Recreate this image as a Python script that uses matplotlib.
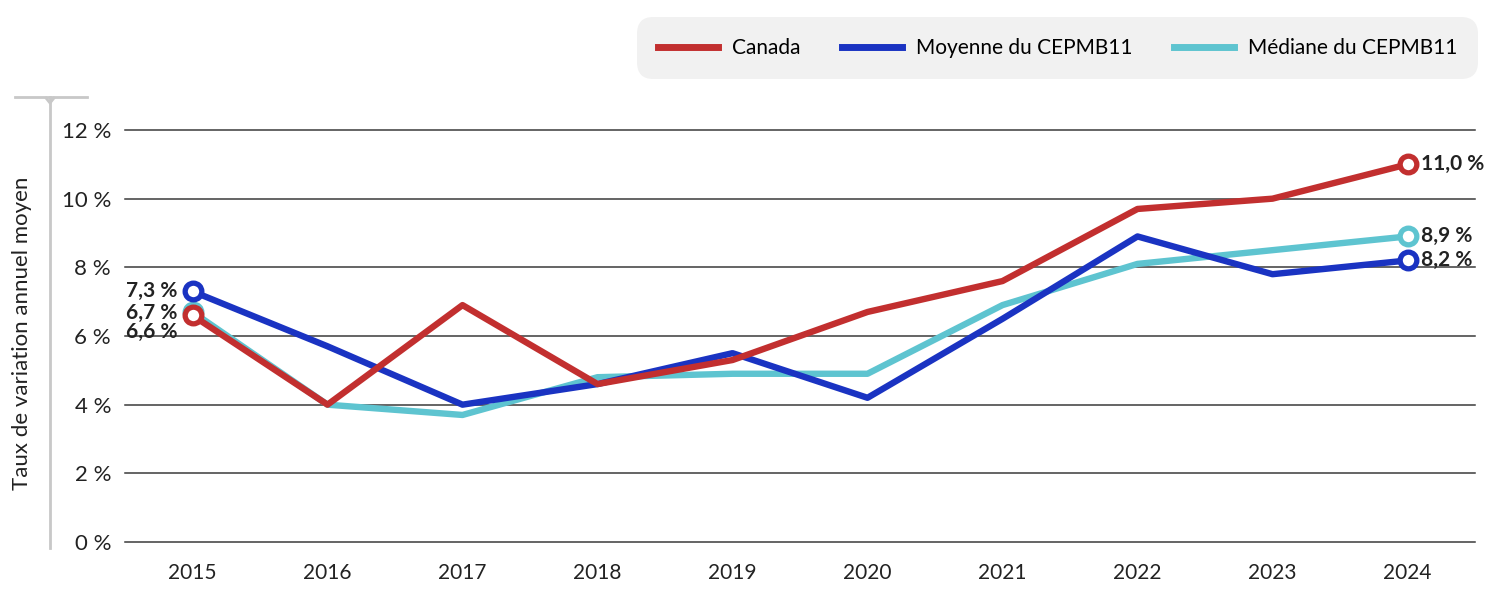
import numpy as np
import matplotlib
matplotlib.use("Agg")
import matplotlib.pyplot as plt
from matplotlib.lines import Line2D

plt.rcParams['font.family'] = ['Lato', 'DejaVu Sans']

# data
years   = [2015, 2016, 2017, 2018, 2019, 2020, 2021, 2022, 2023, 2024]
canada  = [6.6, 4.0, 6.9, 4.6, 5.3, 6.7, 7.6, 9.7, 10.0, 11.0]
moyenne = [7.3, 5.7, 4.0, 4.6, 5.5, 4.2, 6.5, 8.9, 7.8, 8.2]
mediane = [6.7, 4.0, 3.7, 4.8, 4.9, 4.9, 6.9, 8.1, 8.5, 8.9]
y_ticks = [0, 2, 4, 6, 8, 10, 12]
y_label = "Taux de variation annuel moyen"

RED, BLUE, CYAN = '#c22f2f', '#1a33c2', '#5ec4d0'

series = [
    ("Canada", canada, RED),
    ("Moyenne du CEPMB11", moyenne, BLUE),
    ("Médiane du CEPMB11", mediane, CYAN),
]


def fmt(v):
    return f"{v:.1f}".replace('.', ',') + " %"


fig = plt.figure(figsize=(15, 6.03), dpi=100)
ax = fig.add_axes([125 / 1500, 1 - 542 / 603, 1350 / 1500, 412 / 603])
x = np.arange(len(years))
ax.set_xlim(-0.5, len(years) - 0.5)
ax.set_ylim(0, 12)

for t in y_ticks:
    ax.axhline(t, color='#3a3a3a', lw=1.1, zorder=1, clip_on=False)

# draw order: median under average under Canada
for name, vals, col in [series[2], series[1], series[0]]:
    ax.plot(x, vals, color=col, lw=4.6, solid_capstyle='butt', zorder=3)
    ax.plot([x[0], x[-1]], [vals[0], vals[-1]], 'o', ms=12, mfc='white',
            mec=col, mew=3.8, zorder=4, clip_on=False)

# end labels (offsets in points keep the crowded 2015 labels apart)
left = [(moyenne[0], 0), (mediane[0], -1), (canada[0], -12)]
for v, dy in left:
    ax.annotate(fmt(v), (x[0], v), xytext=(-11, dy), textcoords='offset points',
                ha='right', va='center', fontsize=15, fontweight='bold', color='#222222')
right = [(canada[-1], 0), (mediane[-1], 0), (moyenne[-1], 0)]
for v, dy in right:
    ax.annotate(fmt(v), (x[-1], v), xytext=(10, dy), textcoords='offset points',
                ha='left', va='center', fontsize=15, fontweight='bold', color='#222222')

ax.set_xticks(x)
ax.set_xticklabels([str(y) for y in years], fontsize=15, color='#222222')
ax.set_yticks(y_ticks)
ax.set_yticklabels([f"{t} %" for t in y_ticks], fontsize=16, color='#222222')
ax.tick_params(length=0, axis='x', pad=15)
ax.tick_params(length=0, axis='y', pad=10)
for s in ax.spines.values():
    s.set_visible(False)

# y-axis title with its grey bracket
fig.text(22 / 1500, 1 - 333 / 603, y_label, rotation=90, ha='center', va='center',
         fontsize=16, color='#222222')
fig.add_artist(Line2D([50 / 1500, 50 / 1500], [1 - 97 / 603, 1 - 548 / 603],
                      transform=fig.transFigure, color='#c8c8c8', lw=2))
fig.add_artist(Line2D([15 / 1500, 87 / 1500], [1 - 97 / 603, 1 - 97 / 603],
                      transform=fig.transFigure, color='#c8c8c8', lw=2))
fig.add_artist(Line2D([46 / 1500, 50 / 1500, 54 / 1500], [1 - 98 / 603, 1 - 103 / 603, 1 - 98 / 603],
                      transform=fig.transFigure, color='#c8c8c8', lw=2))

handles = [Line2D([], [], color=c, lw=5) for _, _, c in series]
leg = fig.legend(handles, [n for n, _, _ in series], ncol=3,
                 loc='upper right', bbox_to_anchor=(1478 / 1500, 1 - 17 / 603),
                 frameon=True, fancybox=True, facecolor='#f1f1f1', edgecolor='none',
                 fontsize=15, handlelength=2.9, columnspacing=2.0, handletextpad=0.65,
                 borderpad=1.0, borderaxespad=0)
leg.get_frame().set_alpha(1)
leg.get_frame().set_boxstyle('round,pad=0,rounding_size=0.8')

fig.savefig("out.png", dpi=100)
